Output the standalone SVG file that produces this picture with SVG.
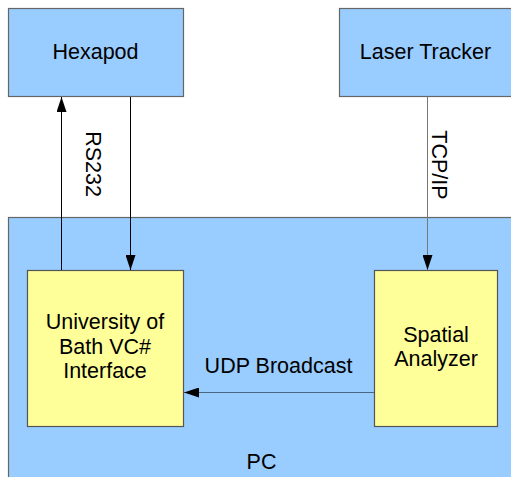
<svg xmlns="http://www.w3.org/2000/svg" width="511" height="477" viewBox="0 0 511 477">
<style>
.blue{fill:#99ccff;stroke:#666;stroke-width:1.2}
.yel{fill:#ffff99;stroke:#555;stroke-width:1.2}
text{font-family:"Liberation Sans",Arial,sans-serif;font-size:21.5px;fill:#000;text-anchor:middle}
.ln{fill:none;stroke:#000;stroke-width:1}
</style>
<defs>
<marker id="ah" markerUnits="userSpaceOnUse" markerWidth="16" markerHeight="10" refX="15" refY="5" orient="auto">
<path d="M0,0 L15,5 L0,10 Z" fill="#000"/>
</marker>
</defs>
<rect width="511" height="477" fill="#fff"/>
<g id="pc">
<rect class="blue" x="8.5" y="217.5" width="515" height="270"/>
<text x="261.5" y="469">PC</text>
</g>
<g id="hexapod">
<rect class="blue" x="8.5" y="8.5" width="175" height="88"/>
<text x="95.5" y="59">Hexapod</text>
</g>
<g id="laser">
<rect class="blue" x="339.5" y="8.5" width="180" height="88"/>
<text x="425.5" y="59">Laser Tracker</text>
</g>
<g id="uob">
<rect class="yel" x="27.5" y="270.5" width="156" height="156"/>
<text x="105" y="329">University of</text>
<text x="105" y="353.5">Bath VC#</text>
<text x="105" y="378">Interface</text>
</g>
<g id="spatial">
<rect class="yel" x="374.5" y="270.5" width="123" height="156"/>
<text x="436" y="341.5">Spatial</text>
<text x="436" y="366">Analyzer</text>
</g>
<g id="connectors">
<line class="ln" x1="61.5" y1="270" x2="61.5" y2="97" marker-end="url(#ah)"/>
<line class="ln" x1="130.5" y1="97" x2="130.5" y2="270" marker-end="url(#ah)"/>
<line class="ln" style="stroke:#777" x1="427.5" y1="97" x2="427.5" y2="270" marker-end="url(#ah)"/>
<line class="ln" style="stroke:#4d6680" x1="374" y1="392.5" x2="184" y2="392.5" marker-end="url(#ah)"/>
<text transform="translate(86,164) rotate(90)">RS232</text>
<text transform="translate(432,165) rotate(90)">TCP/IP</text>
<text x="278.5" y="373">UDP Broadcast</text>
</g>
</svg>
